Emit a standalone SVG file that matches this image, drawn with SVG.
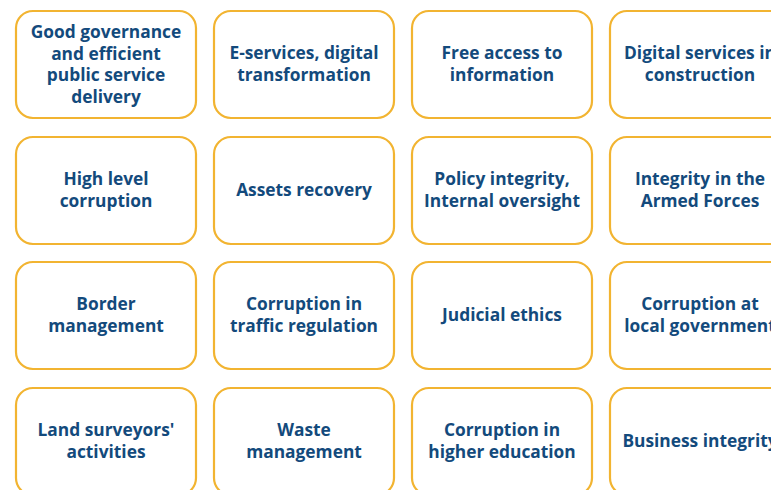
<svg xmlns="http://www.w3.org/2000/svg" width="771" height="490" viewBox="0 0 771 490">
<style>
.b{fill:#fff;stroke:#F2B431;stroke-width:2.2}
.t{font-family:"Open Sans",sans-serif;font-weight:bold;font-size:17.35px;fill:#134A7C;text-anchor:middle}
</style>
<rect width="771" height="490" fill="#fff"/>
<g id="n1"><rect class="b" x="16" y="11" width="180" height="107" rx="17"/><text class="t" x="106"><tspan x="106" y="38">Good governance</tspan><tspan x="106" y="59.5">and efficient</tspan><tspan x="106" y="81">public service</tspan><tspan x="106" y="102.5">delivery</tspan></text></g>
<g id="n2"><rect class="b" x="214" y="11" width="180" height="107" rx="17"/><text class="t"><tspan x="304" y="59">E-services, digital</tspan><tspan x="304" y="80.5">transformation</tspan></text></g>
<g id="n3"><rect class="b" x="412" y="11" width="180" height="107" rx="17"/><text class="t"><tspan x="502" y="59">Free access to</tspan><tspan x="502" y="80.5">information</tspan></text></g>
<g id="n4"><rect class="b" x="610" y="11" width="180" height="107" rx="17"/><text class="t"><tspan x="700" y="59">Digital services in</tspan><tspan x="700" y="80.5">construction</tspan></text></g>
<g id="n5"><rect class="b" x="16" y="137" width="180" height="107" rx="17"/><text class="t"><tspan x="106" y="185">High level</tspan><tspan x="106" y="206.5">corruption</tspan></text></g>
<g id="n6"><rect class="b" x="214" y="137" width="180" height="107" rx="17"/><text class="t" x="304" y="196">Assets recovery</text></g>
<g id="n7"><rect class="b" x="412" y="137" width="180" height="107" rx="17"/><text class="t"><tspan x="502" y="185">Policy integrity,</tspan><tspan x="502" y="206.5">Internal oversight</tspan></text></g>
<g id="n8"><rect class="b" x="610" y="137" width="180" height="107" rx="17"/><text class="t"><tspan x="700" y="185">Integrity in the</tspan><tspan x="700" y="206.5">Armed Forces</tspan></text></g>
<g id="n9"><rect class="b" x="16" y="262" width="180" height="107" rx="17"/><text class="t"><tspan x="106" y="310">Border</tspan><tspan x="106" y="331.5">management</tspan></text></g>
<g id="n10"><rect class="b" x="214" y="262" width="180" height="107" rx="17"/><text class="t"><tspan x="304" y="310">Corruption in</tspan><tspan x="304" y="331.5">traffic regulation</tspan></text></g>
<g id="n11"><rect class="b" x="412" y="262" width="180" height="107" rx="17"/><text class="t" x="502" y="321">Judicial ethics</text></g>
<g id="n12"><rect class="b" x="610" y="262" width="180" height="107" rx="17"/><text class="t"><tspan x="700" y="310">Corruption at</tspan><tspan x="700" y="331.5">local government</tspan></text></g>
<g id="n13"><rect class="b" x="16" y="388" width="180" height="107" rx="17"/><text class="t"><tspan x="106" y="436">Land surveyors'</tspan><tspan x="106" y="457.5">activities</tspan></text></g>
<g id="n14"><rect class="b" x="214" y="388" width="180" height="107" rx="17"/><text class="t"><tspan x="304" y="436">Waste</tspan><tspan x="304" y="457.5">management</tspan></text></g>
<g id="n15"><rect class="b" x="412" y="388" width="180" height="107" rx="17"/><text class="t"><tspan x="502" y="436">Corruption in</tspan><tspan x="502" y="457.5">higher education</tspan></text></g>
<g id="n16"><rect class="b" x="610" y="388" width="180" height="107" rx="17"/><text class="t" x="700" y="447">Business integrity</text></g>
<g id="connectors"></g>
</svg>
